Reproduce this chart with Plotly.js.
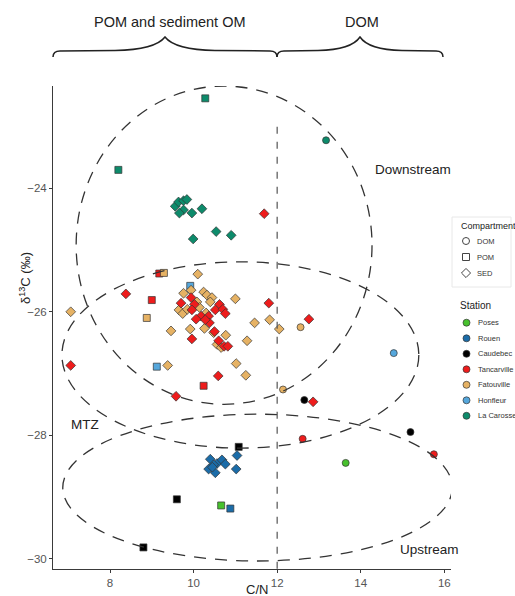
<!DOCTYPE html>
<html>
<head>
<meta charset="utf-8">
<script src="https://cdn.plot.ly/plotly-3.0.1.min.js"></script>
<style>html,body{margin:0;padding:0;background:#fff;}#chart{width:515px;height:596px;}</style>
</head>
<body>
<div id="chart"></div>
<script>
// ---------------- DATA ----------------
const stations = ['Poses', 'Rouen', 'Caudebec', 'Tancarville', 'Fatouville', 'Honfleur', 'La Carosse'];
const compartments = ['DOM', 'POM', 'SED'];

const poses_cn   = [10.66, 13.64];
const poses_d13c = [-29.14, -28.45];
const poses_comp = ['POM', 'DOM'];

const rouen_cn   = [10.40, 10.56, 10.68, 10.76, 10.48, 10.36, 10.52, 11.04, 11.02, 10.45, 10.88];
const rouen_d13c = [-28.39, -28.46, -28.40, -28.47, -28.48, -28.55, -28.61, -28.33, -28.55, -28.52, -29.19];
const rouen_comp = ['SED', 'SED', 'SED', 'SED', 'SED', 'SED', 'SED', 'SED', 'SED', 'SED', 'POM'];

const caudebec_cn   = [11.08, 9.60, 8.80, 12.65, 15.19];
const caudebec_d13c = [-28.19, -29.04, -29.82, -27.43, -27.95];
const caudebec_comp = ['POM', 'POM', 'POM', 'DOM', 'DOM'];

const tancarville_cn   = [11.69, 8.38, 7.06, 9.94, 9.70, 10.02, 9.96, 10.62, 10.52, 10.70, 10.76, 11.80, 10.18, 10.36, 10.06, 10.38, 10.28, 10.50, 9.96, 10.60, 10.73, 10.82, 10.59, 9.58, 12.76, 12.86, 9.18, 9.00, 10.24, 12.61, 15.75];
const tancarville_d13c = [-24.41, -25.71, -26.87, -25.77, -25.86, -25.88, -25.97, -25.88, -25.97, -25.96, -26.03, -25.86, -26.07, -26.07, -26.12, -26.18, -26.13, -26.32, -26.44, -26.47, -26.56, -26.56, -27.04, -27.37, -26.12, -27.46, -25.38, -25.81, -27.20, -28.06, -28.31];
const tancarville_comp = ['SED', 'SED', 'SED', 'SED', 'SED', 'SED', 'SED', 'SED', 'SED', 'SED', 'SED', 'SED', 'SED', 'SED', 'SED', 'SED', 'SED', 'SED', 'SED', 'SED', 'SED', 'SED', 'SED', 'SED', 'SED', 'SED', 'POM', 'POM', 'POM', 'DOM', 'DOM'];

const fatouville_cn   = [9.29, 8.88, 10.10, 9.94, 9.76, 10.24, 10.32, 10.44, 10.40, 10.08, 11.00, 9.65, 9.74, 9.85, 10.26, 9.92, 9.46, 10.77, 11.46, 11.82, 12.05, 11.28, 10.56, 9.38, 11.02, 11.25, 7.06, 10.48, 10.66, 10.30, 10.14, 12.56, 12.14];
const fatouville_d13c = [-25.37, -26.10, -25.39, -25.65, -25.70, -25.68, -25.73, -25.77, -25.84, -25.84, -25.79, -25.97, -26.03, -25.96, -26.27, -26.28, -26.31, -26.38, -26.18, -26.13, -26.28, -26.47, -26.53, -26.87, -26.84, -27.03, -26.00, -26.34, -26.58, -26.02, -25.93, -26.25, -27.26];
const fatouville_comp = ['POM', 'POM', 'SED', 'SED', 'SED', 'SED', 'SED', 'SED', 'SED', 'SED', 'SED', 'SED', 'SED', 'SED', 'SED', 'SED', 'SED', 'SED', 'SED', 'SED', 'SED', 'SED', 'SED', 'SED', 'SED', 'SED', 'SED', 'SED', 'SED', 'SED', 'SED', 'DOM', 'DOM'];

const honfleur_cn   = [9.92, 9.12, 14.79];
const honfleur_d13c = [-25.58, -26.89, -26.67];
const honfleur_comp = ['POM', 'POM', 'DOM'];

const carosse_cn   = [10.28, 8.20, 9.56, 9.64, 9.76, 9.84, 9.76, 9.66, 9.96, 10.20, 9.99, 10.54, 10.90, 13.17];
const carosse_d13c = [-22.54, -23.70, -24.29, -24.22, -24.20, -24.18, -24.35, -24.40, -24.40, -24.33, -24.82, -24.70, -24.76, -23.22];
const carosse_comp = ['POM', 'POM', 'SED', 'SED', 'SED', 'SED', 'SED', 'SED', 'SED', 'SED', 'SED', 'SED', 'SED', 'DOM'];

// Ellipse regions (centre / semi-axes in C/N and d13C units)
const regionNames = ['Downstream', 'MTZ', 'Upstream'];
const region_cx = [10.73, 11.12, 11.53];
const region_cy = [-24.92, -26.70, -28.85];
const region_rx = [3.54, 4.27, 4.66];
const region_ry = [2.58, 1.51, 1.19];
const cnThreshold = 12;

// ---------------- STYLE ----------------
const stationColors = {
  'Poses': '#47c12d', 'Rouen': '#1b6ca8', 'Caudebec': '#000000', 'Tancarville': '#ee1c1c',
  'Fatouville': '#e6b264', 'Honfleur': '#55a7dc', 'La Carosse': '#0d8b6b'
};
const symbolOf = {'DOM': 'circle', 'POM': 'square', 'SED': 'diamond'};
const sizeOf = {'DOM': 7, 'POM': 7, 'SED': 7.5};
const FONT = 'Liberation Sans, Arial, sans-serif';

const stationData = {
  'Poses': [poses_cn, poses_d13c, poses_comp],
  'Rouen': [rouen_cn, rouen_d13c, rouen_comp],
  'Caudebec': [caudebec_cn, caudebec_d13c, caudebec_comp],
  'Tancarville': [tancarville_cn, tancarville_d13c, tancarville_comp],
  'Fatouville': [fatouville_cn, fatouville_d13c, fatouville_comp],
  'Honfleur': [honfleur_cn, honfleur_d13c, honfleur_comp],
  'La Carosse': [carosse_cn, carosse_d13c, carosse_comp]
};

// draw order (compartment, station)
const drawOrder = [
  ['POM', 'Tancarville'], ['POM', 'Fatouville'], ['POM', 'Honfleur'], ['POM', 'La Carosse'],
  ['POM', 'Poses'], ['POM', 'Rouen'], ['POM', 'Caudebec'],
  ['SED', 'La Carosse'], ['SED', 'Fatouville'], ['SED', 'Tancarville'], ['SED', 'Rouen'],
  ['DOM', 'Fatouville'], ['DOM', 'Honfleur'], ['DOM', 'Caudebec'], ['DOM', 'Tancarville'],
  ['DOM', 'Poses'], ['DOM', 'La Carosse']
];

const traces = [];
drawOrder.forEach(([comp, st]) => {
  const [cn, d, c] = stationData[st];
  const xs = [], ys = [];
  c.forEach((v, i) => { if (v === comp) { xs.push(cn[i]); ys.push(d[i]); } });
  if (!xs.length) return;
  traces.push({
    type: 'scatter', mode: 'markers', x: xs, y: ys, xaxis: 'x', yaxis: 'y',
    name: st + ' ' + comp, showlegend: false, cliponaxis: false,
    marker: {symbol: symbolOf[comp], size: sizeOf[comp], color: stationColors[st],
             line: {color: '#333333', width: 0.7}}
  });
});

// ---------------- LEGEND (overlay in page pixels on x2/y2) ----------------
const annotations = [];
const shapes = [];
const PX = (x, y) => ({xref: 'x2', yref: 'y2', x: x, y: y});

shapes.push({type: 'rect', xref: 'x2', yref: 'y2', x0: 452, x1: 511, y0: 217, y1: 287,
             line: {color: '#e8e8e8', width: 1}, fillcolor: 'rgba(0,0,0,0)'});
annotations.push(Object.assign(PX(459, 226), {text: 'Compartment', showarrow: false, xanchor: 'left', yanchor: 'middle',
  font: {family: FONT, size: 9, color: '#222'}}));
const compY = [241, 257, 273];
traces.push({type: 'scatter', mode: 'markers', xaxis: 'x2', yaxis: 'y2', showlegend: false,
  x: compartments.map(() => 466), y: compY,
  marker: {symbol: compartments.map(c => symbolOf[c] + '-open'), size: 7, color: '#444', line: {width: 1}}});
compartments.forEach((c, i) => annotations.push(Object.assign(PX(475, compY[i]), {text: c, showarrow: false,
  xanchor: 'left', yanchor: 'middle', font: {family: FONT, size: 7.5, color: '#333'}})));

annotations.push(Object.assign(PX(458, 305), {text: 'Station', showarrow: false, xanchor: 'left', yanchor: 'middle',
  font: {family: FONT, size: 10, color: '#222'}}));
const stY = [322.7, 338.3, 353.8, 369.3, 384.8, 400.3, 415.8];
traces.push({type: 'scatter', mode: 'markers', xaxis: 'x2', yaxis: 'y2', showlegend: false,
  x: stations.map(() => 466.5), y: stY,
  marker: {symbol: 'circle', size: 7, color: stations.map(s => stationColors[s]), line: {color: '#333', width: 0.7}}});
stations.forEach((s, i) => annotations.push(Object.assign(PX(476, stY[i]), {text: s, showarrow: false,
  xanchor: 'left', yanchor: 'middle', font: {family: FONT, size: 7.5, color: '#333'}})));

// ---------------- REGIONS ----------------
regionNames.forEach((n, i) => {
  shapes.push({type: 'circle', xref: 'x', yref: 'y',
    x0: region_cx[i] - region_rx[i], x1: region_cx[i] + region_rx[i],
    y0: region_cy[i] - region_ry[i], y1: region_cy[i] + region_ry[i],
    line: {color: '#333333', width: 1.3, dash: '12px,9px'}});
});
shapes.push({type: 'line', xref: 'x', yref: 'y', x0: cnThreshold, x1: cnThreshold, y0: -23.0, y1: -30.17,
  line: {color: '#555555', width: 1.2, dash: '7px,8px'}});

// braces (page pixels)
shapes.push({type: 'path', xref: 'x2', yref: 'y2',
  path: 'M 53,57 Q 53,51 60,51 L 115,50.5 C 142,50 158,46 165,37 C 172,46 188,50 215,50.5 L 270,51 Q 277,51 277,57',
  line: {color: '#222', width: 1.5}});
shapes.push({type: 'path', xref: 'x2', yref: 'y2',
  path: 'M 277,57 Q 277,51 284,51 L 318,50.5 C 340,50 354,46 360,37 C 366,46 380,50 402,50.5 L 436,51 Q 443,51 443,57',
  line: {color: '#222', width: 1.5}});

annotations.push(Object.assign(PX(170, 22), {text: 'POM and sediment OM', showarrow: false,
  font: {family: FONT, size: 14.5, color: '#222'}}));
annotations.push(Object.assign(PX(362, 22), {text: 'DOM', showarrow: false,
  font: {family: FONT, size: 14.5, color: '#222'}}));
annotations.push(Object.assign(PX(413, 169), {text: 'Downstream', showarrow: false,
  font: {family: FONT, size: 13.5, color: '#222'}}));
annotations.push(Object.assign(PX(429, 549), {text: 'Upstream', showarrow: false,
  font: {family: FONT, size: 13.5, color: '#222'}}));
annotations.push(Object.assign(PX(85, 424), {text: 'MTZ', showarrow: false,
  font: {family: FONT, size: 13.5, color: '#222'}}));
annotations.push(Object.assign(PX(257, 589), {text: 'C/N', showarrow: false,
  font: {family: FONT, size: 13, color: '#222'}}));
annotations.push(Object.assign(PX(25, 278), {text: 'δ<sup>13</sup>C (‰)', showarrow: false, textangle: -90,
  font: {family: FONT, size: 13, color: '#222'}}));

const W = 515, H = 596;
const layout = {
  width: W, height: H,
  margin: {l: 0, r: 0, t: 0, b: 0, autoexpand: false},
  paper_bgcolor: '#ffffff', plot_bgcolor: 'rgba(0,0,0,0)',
  showlegend: false,
  font: {family: FONT},
  xaxis: {domain: [53 / W, 451 / W], range: [6.636, 16.16], anchor: 'y',
    showline: true, linecolor: '#3a3a3a', linewidth: 1, ticks: 'outside', ticklen: 3, tickcolor: '#3a3a3a',
    tickvals: [8, 10, 12, 14, 16], showgrid: false, zeroline: false,
    tickfont: {family: FONT, size: 11.5, color: '#555555'}},
  yaxis: {domain: [1 - 569 / H, 1 - 86 / H], range: [-30.17, -22.34], anchor: 'x',
    showline: true, linecolor: '#3a3a3a', linewidth: 1, ticks: 'outside', ticklen: 3, tickcolor: '#3a3a3a',
    tickvals: [-30, -28, -26, -24], showgrid: false, zeroline: false,
    tickfont: {family: FONT, size: 11.5, color: '#555555'}},
  xaxis2: {domain: [0, 1], range: [0, W], anchor: 'y2', visible: false, fixedrange: true},
  yaxis2: {domain: [0, 1], range: [H, 0], anchor: 'x2', visible: false, fixedrange: true},
  shapes: shapes,
  annotations: annotations
};

Plotly.newPlot('chart', traces, layout, {staticPlot: true, displayModeBar: false});
</script>
</body>
</html>
